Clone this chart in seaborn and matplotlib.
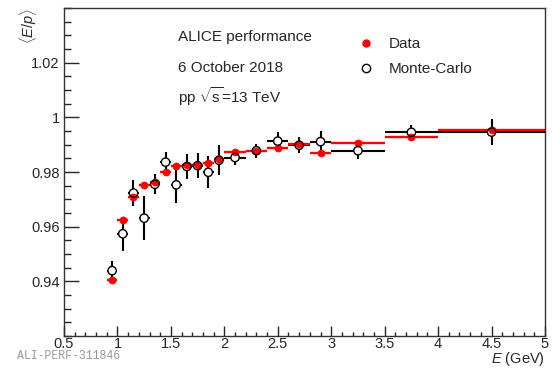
import numpy as np
import pandas as pd
import matplotlib
matplotlib.use("Agg")
import matplotlib.pyplot as plt
import seaborn as sns
from matplotlib.ticker import MultipleLocator, FuncFormatter
from matplotlib.lines import Line2D

# ---- data ----
e_centers = [0.95, 1.05, 1.15, 1.25, 1.35, 1.45, 1.55, 1.65, 1.75, 1.85, 1.95,
             2.1, 2.3, 2.5, 2.7, 2.9, 3.25, 3.75, 4.5]
e_halfwidth = [0.05] * 11 + [0.1] * 5 + [0.25, 0.25, 0.5]
data_vals = [0.9405, 0.9624, 0.9710, 0.9752, 0.9763, 0.9801, 0.9822, 0.9825, 0.9826,
             0.9832, 0.9847, 0.9874, 0.9877, 0.9887, 0.9901, 0.9869, 0.9906, 0.9927, 0.9954]
data_err = [0.0008] * 19
mc_vals = [0.9439, 0.9574, 0.9723, 0.9631, 0.9755, 0.9836, 0.9753, 0.9820, 0.9823,
           0.9799, 0.9843, 0.9853, 0.9878, 0.9913, 0.9898, 0.9911, 0.9878, 0.9945, 0.9946]
mc_err = [0.0034, 0.0062, 0.0046, 0.0080, 0.0037, 0.0037, 0.0068, 0.0046, 0.0045,
          0.0058, 0.0055, 0.0027, 0.0026, 0.0033, 0.0029, 0.0040, 0.0032, 0.0026, 0.0048]
x_ticks = [0.5, 1, 1.5, 2, 2.5, 3, 3.5, 4, 4.5, 5]
y_ticks = [0.94, 0.96, 0.98, 1.0, 1.02]
legend_labels = ["Data", "Monte-Carlo"]
info_lines = ["ALICE performance", "6 October 2018", r"pp $\sqrt{\mathrm{s}}$=13 TeV"]

df_data = pd.DataFrame({"E": e_centers, "val": data_vals, "err": data_err, "xw": e_halfwidth})
df_mc = pd.DataFrame({"E": e_centers, "val": mc_vals, "err": mc_err, "xw": e_halfwidth})

sns.set_style("ticks")
plt.rcParams["font.family"] = ["Liberation Sans", "DejaVu Sans"]
plt.rcParams["mathtext.fontset"] = "custom"
plt.rcParams["mathtext.rm"] = "Liberation Sans"
plt.rcParams["mathtext.it"] = "Liberation Sans:italic"

W, H = 552, 370
fig = plt.figure(figsize=(W / 100, H / 100), dpi=100)
fig.patch.set_facecolor("white")
ax = fig.add_axes([64 / W, 34 / H, 481 / W, 328 / H])

def fy(px_from_top):
    return 1 - px_from_top / H

# MC error bars (black) with white-filled marker base
ax.errorbar(df_mc["E"], df_mc["val"], yerr=df_mc["err"], xerr=df_mc["xw"],
            fmt="none", ecolor="black", elinewidth=1.5, capsize=0, zorder=2)
sns.scatterplot(data=df_mc, x="E", y="val", ax=ax, marker="o", s=36,
                facecolor="white", edgecolor="none", zorder=3, legend=False)
# Data (red)
ax.errorbar(df_data["E"], df_data["val"], yerr=df_data["err"], xerr=df_data["xw"],
            fmt="none", ecolor="red", elinewidth=1.7, capsize=0, zorder=4)
sns.scatterplot(data=df_data, x="E", y="val", ax=ax, marker="o", s=26,
                color="red", edgecolor="red", linewidth=0.5, zorder=5, legend=False)
# MC open circle outlines
sns.scatterplot(data=df_mc, x="E", y="val", ax=ax, marker="o", s=36,
                facecolor="none", edgecolor="black", linewidth=1.0, zorder=6, legend=False)

ax.set_xlim(0.5, 5)
ax.set_ylim(0.92, 1.04)
ax.set_xticks(x_ticks)
ax.set_yticks(y_ticks)
ax.xaxis.set_minor_locator(MultipleLocator(0.1))
ax.yaxis.set_minor_locator(MultipleLocator(0.005))
fmt = FuncFormatter(lambda v, p: "%g" % round(v, 4))
ax.xaxis.set_major_formatter(fmt)
ax.yaxis.set_major_formatter(fmt)
ax.tick_params(axis="x", which="major", direction="in", length=7, width=1, labelsize=10.5, pad=1)
ax.tick_params(axis="x", which="minor", direction="in", length=3, width=1)
ax.tick_params(axis="y", which="major", direction="in", length=10.5, width=1, labelsize=10.5, pad=3)
ax.tick_params(axis="y", which="minor", direction="in", length=5, width=1)
for sp in ax.spines.values():
    sp.set_visible(True)
    sp.set_linewidth(1.0)
    sp.set_color("#333333")
ax.set_xlabel("")
ax.set_ylabel("")

fig.text(545 / W, fy(359), r"$E$ (GeV)", ha="right", va="center", fontsize=10.5)
fig.text(28 / W, fy(26), r"$\langle E/p\rangle$", ha="center", va="center",
         rotation=90, fontsize=10.5)

# annotations
for t, yy in zip(info_lines, [37, 68, 97]):
    fig.text(178 / W, fy(yy), t, fontsize=11, va="center")

# legend
h_data = Line2D([], [], marker="o", color="red", linestyle="none", markersize=5)
h_mc = Line2D([], [], marker="o", markerfacecolor="white", markeredgecolor="black",
              linestyle="none", markersize=6)
anchor_y = (H - 37 - 34) / 328
ax.legend([h_data, h_mc], legend_labels, loc="upper left",
          bbox_to_anchor=((358 - 64) / 481, anchor_y), frameon=False,
          fontsize=11, labelspacing=0.75, handlelength=1.0, handletextpad=1.0,
          borderpad=0, borderaxespad=0)

fig.text(17 / W, fy(356), "ALI-PERF-311846", fontsize=8.3, color="#999999",
         family="Liberation Mono", va="center")

fig.savefig("out.png", dpi=100, facecolor="white")
